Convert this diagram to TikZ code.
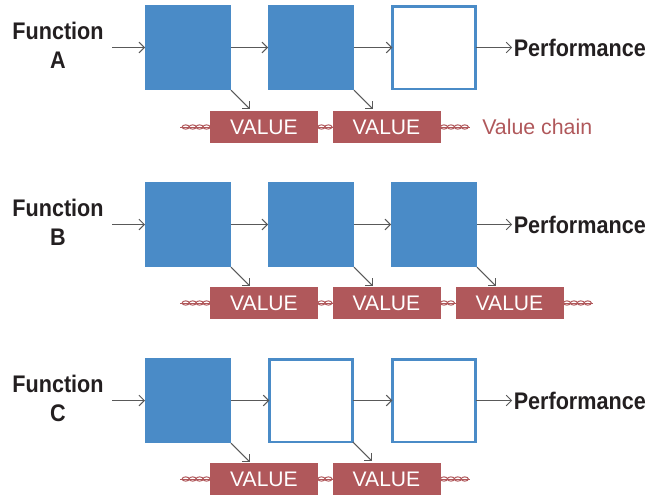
\documentclass[tikz,border=0pt]{standalone}
\usepackage{fontspec}
\setmainfont{Liberation Sans}
\newfontfamily\labfont[FakeStretch=0.9]{Liberation Sans Bold}
\usetikzlibrary{arrows.meta,decorations.markings,calc}
\definecolor{vblue}{HTML}{4A8BC7}
\definecolor{vred}{HTML}{B0585B}
\definecolor{arrgray}{HTML}{595959}
\definecolor{txt}{HTML}{231F20}
\tikzset{
  fbox/.style={fill=vblue, draw=none, minimum width=64.5pt, minimum height=64pt, inner sep=0pt, outer sep=0pt},
  obox/.style={fill=white, draw=vblue, line width=2pt, minimum width=62.5pt, minimum height=62pt, inner sep=0pt, outer sep=0pt},
  valbox/.style={fill=vred, draw=none, minimum width=81pt, minimum height=24pt, inner sep=0pt, outer sep=0pt,
    text=white, font=\fontsize{15.8}{18}\selectfont},
  funclabel/.style={align=center, text=txt, font=\labfont\fontsize{18}{21.75}\selectfont, inner sep=0pt},
  perflabel/.style={anchor=west, text=txt, font=\labfont\fontsize{18}{21.75}\selectfont, inner sep=0pt},
  arr/.style={draw=arrgray, line width=0.75pt, -{Straight Barb[length=4pt,width=8pt]}},
  chainline/.style={draw=vred, line width=0.75pt,
    postaction={decorate, decoration={markings,
      mark=between positions 2.6pt and -3pt step 5.2pt with {\draw[vred, line width=0.75pt] (0,0) ellipse (2.7pt and 1.6pt);}}}},
}
\begin{document}
\begin{tikzpicture}[x=0.75pt,y=-0.75pt]
\useasboundingbox (0,0) rectangle (662,496);

% ---------- Row A ----------
\node[fbox] (a1) at (188,47.5) {};
\node[fbox] (a2) at (311,47.5) {};
\node[obox] (a3) at (434,47.5) {};
\node[funclabel] (fa) at (58,45) {Function\\A};
\coordinate (ina) at (112,47.5);
\node[perflabel] (pa) at (513.5,47.5) {Performance};
\draw[arr] (ina) -- (a1.west);
\draw[arr] (a1.east) -- (a2.west);
\draw[arr] (a2.east) -- (a3.west);
\draw[arr] (a3.east) -- ([xshift=-1pt]pa.west);
\node[valbox] (va1) at (264,127) {VALUE};
\node[valbox] (va2) at (386.5,127) {VALUE};
\draw[arr] (a1.south east) -- ++(19,19);
\draw[arr] (a2.south east) -- ++(19,19);
\coordinate (cla) at (180,127);
\coordinate (cra) at (470,127);
\draw[chainline] (va1.west) -- (cla);
\draw[chainline] (va1.east) -- (va2.west);
\draw[chainline] (va2.east) -- (cra);
\node[anchor=west, inner sep=0pt, text=vred, font=\fontsize{16}{19}\selectfont] (vc) at (482,127) {Value chain};

% ---------- Row B ----------
\node[fbox] (b1) at (188,224.5) {};
\node[fbox] (b2) at (311,224.5) {};
\node[fbox] (b3) at (434,224.5) {};
\node[funclabel] (fb) at (58,222) {Function\\B};
\coordinate (inb) at (112,224.5);
\node[perflabel] (pb) at (513.5,224.5) {Performance};
\draw[arr] (inb) -- (b1.west);
\draw[arr] (b1.east) -- (b2.west);
\draw[arr] (b2.east) -- (b3.west);
\draw[arr] (b3.east) -- ([xshift=-1pt]pb.west);
\node[valbox] (vb1) at (264,303) {VALUE};
\node[valbox] (vb2) at (386.5,303) {VALUE};
\node[valbox] (vb3) at (509.5,303) {VALUE};
\draw[arr] (b1.south east) -- ++(19,19);
\draw[arr] (b2.south east) -- ++(19,19);
\draw[arr] (b3.south east) -- ++(19,19);
\coordinate (clb) at (180,303);
\coordinate (crb) at (593,303);
\draw[chainline] (vb1.west) -- (clb);
\draw[chainline] (vb1.east) -- (vb2.west);
\draw[chainline] (vb2.east) -- (vb3.west);
\draw[chainline] (vb3.east) -- (crb);

% ---------- Row C ----------
\node[fbox] (c1) at (188,400.5) {};
\node[obox] (c2) at (311,400.5) {};
\node[obox] (c3) at (434,400.5) {};
\node[funclabel] (fc) at (58,398) {Function\\C};
\coordinate (inc) at (112,400.5);
\node[perflabel] (pc) at (513.5,400.5) {Performance};
\draw[arr] (inc) -- (c1.west);
\draw[arr] (c1.east) -- (c2.west);
\draw[arr] (c2.east) -- (c3.west);
\draw[arr] (c3.east) -- ([xshift=-1pt]pc.west);
\node[valbox] (vc1) at (264,479) {VALUE};
\node[valbox] (vc2) at (386.5,479) {VALUE};
\draw[arr] (c1.south east) -- ++(19,19);
\draw[arr] (c2.south east) -- ++(19,19);
\coordinate (clc) at (180,479);
\coordinate (crc) at (470,479);
\draw[chainline] (vc1.west) -- (clc);
\draw[chainline] (vc1.east) -- (vc2.west);
\draw[chainline] (vc2.east) -- (crc);
\end{tikzpicture}
\end{document}
